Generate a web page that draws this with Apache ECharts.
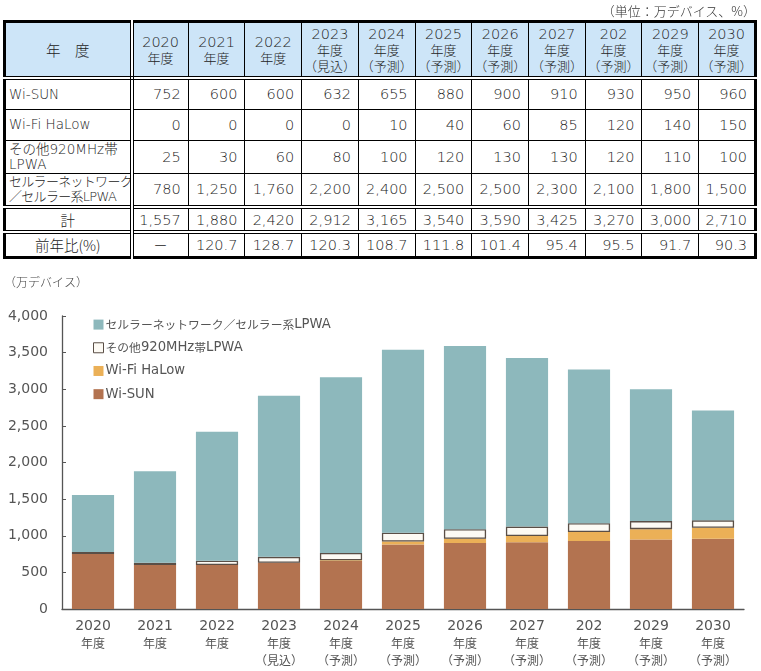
<!DOCTYPE html>
<html>
<head>
<meta charset="utf-8">
<script src="https://cdn.jsdelivr.net/npm/echarts@6/dist/echarts.min.js"></script>
<style>
html,body{margin:0;padding:0;background:#fff;width:761px;height:671px;overflow:hidden;font-family:"DejaVu Sans","Noto Sans CJK JP",sans-serif;}
#chart{position:absolute;left:0;top:0;width:761px;height:671px;z-index:1;}
#unit{position:absolute;right:5px;top:1px;font-size:13px;color:#333;z-index:2;font-family:"Noto Sans CJK JP",sans-serif;font-weight:300;}
#tbl{position:absolute;left:3px;top:20px;width:754px;border-collapse:collapse;table-layout:fixed;z-index:2;border:3px solid #000;color:#222;font-size:14.5px;background:#fff;}
#tbl td,#tbl th{border:1px solid #000;padding:0;font-weight:300;white-space:nowrap;overflow:hidden;}
#tbl th{background:#cde5f8;text-align:center;line-height:16px;font-size:14.5px;font-weight:300;}
#tbl th .s{font-size:13px;}
#tbl td.n{text-align:right;padding-right:7px;}
#tbl td.lab{text-align:left;padding-left:3px;font-size:13.5px;line-height:15px;}
#tbl td.c{text-align:center;}
#tbl .dl{border-right:4px double #000 !important;}
#tbl tr.hd th{border-bottom:4px double #000;height:53px;}
#tbl tr.dt td{border-top:4px double #000;}
.cj{font-family:"Noto Sans CJK JP",sans-serif;}
.sq{letter-spacing:-0.7px;font-size:13px;}
</style>
</head>
<body>
<div id="chart"></div>
<div id="unit">（単位：万デバイス、%）</div>
<table id="tbl"></table>
<script>
// ---- data ----
var years = ['2020','2021','2022','2023','2024','2025','2026','2027','202','2029','2030'];
var subLabels = ['年度','年度','年度','年度\n（見込）','年度\n（予測）','年度\n（予測）','年度\n（予測）','年度\n（予測）','年度\n（予測）','年度\n（予測）','年度\n（予測）'];
var seriesNames = ['Wi-SUN','Wi-Fi HaLow','その他920MHz帯LPWA','セルラーネットワーク／セルラー系LPWA'];
var rowLabels = ['Wi-SUN','Wi-Fi HaLow','その他920MHz帯<br>LPWA','<span class="sq">セルラーネットワーク</span><br><span class="sq">／セルラー系LPWA</span>'];
var wisun = [752,600,600,632,655,880,900,910,930,950,960];
var halow = [0,0,0,0,10,40,60,85,120,140,150];
var other920 = [25,30,60,80,100,120,130,130,120,110,100];
var cellular = [780,1250,1760,2200,2400,2500,2500,2300,2100,1800,1500];
var totals = [1557,1880,2420,2912,3165,3540,3590,3425,3270,3000,2710];
var yoy = ['－','120.7','128.7','120.3','108.7','111.8','101.4','95.4','95.5','91.7','90.3'];
var yTicks = [0,500,1000,1500,2000,2500,3000,3500,4000];

function fmt(v){return v.toString().replace(/\B(?=(\d{3})+(?!\d))/g, ',');}

// ---- table ----
(function(){
  var t = document.getElementById('tbl');
  var h = '<colgroup><col style="width:127px">';
  for (var i=0;i<years.length;i++) h += '<col>';
  h += '</colgroup>';
  h += '<tr class="hd"><th class="dl cj">年　度</th>';
  for (var i=0;i<years.length;i++){
    h += '<th>'+years[i]+'<br><span class="s cj">'+subLabels[i].replace('\n','<br>')+'</span></th>';
  }
  h += '</tr>';
  var rows = [wisun,halow,other920,cellular];
  var hts = [31,31,33,34];
  for (var r=0;r<rows.length;r++){
    h += '<tr style="height:'+hts[r]+'px"><td class="lab dl">'+rowLabels[r]+'</td>';
    for (var i=0;i<years.length;i++) h += '<td class="n">'+fmt(rows[r][i])+'</td>';
    h += '</tr>';
  }
  h += '<tr class="dt" style="height:24px"><td class="c dl cj">計</td>';
  for (var i=0;i<years.length;i++) h += '<td class="n">'+fmt(totals[i])+'</td>';
  h += '</tr>';
  h += '<tr class="dt" style="height:25px"><td class="c dl cj">前年比(%)</td>';
  for (var i=0;i<years.length;i++) h += '<td class="'+(i===0?'c':'n')+'">'+yoy[i]+'</td>';
  h += '</tr>';
  t.innerHTML = h;
})();

// ---- chart ----
var FF = '"DejaVu Sans","Noto Sans CJK JP",sans-serif';
var CJ = '"Noto Sans CJK JP",sans-serif';
var chart = echarts.init(document.getElementById('chart'), null, {renderer:'canvas'});
var colors = ['#b37350','#ebb057','#fdfaf4','#8db8bc'];
var cats = years.map(function(y,i){return y+'\n'+subLabels[i];});
var dataSets = [wisun,halow,other920,cellular];
var series = dataSets.map(function(d,k){
  return {
    name: seriesNames[k], type:'bar', stack:'total', data:d, barWidth:'68%',
    itemStyle: k===2 ? {color:colors[k], borderColor:'#5a4e46', borderWidth:1.3} : {color:colors[k]},
    emphasis:{disabled:true}
  };
});
function richName(n){
  var out='', cur='', curType=null;
  for (var i=0;i<n.length;i++){
    var ch=n[i]; var t = /[\u3000-\u9fff\uff00-\uffef]/.test(ch)?'c':'l';
    if (t!==curType && cur){out+='{'+curType+'|'+cur+'}';cur='';}
    curType=t; cur+=ch;
  }
  if (cur) out+='{'+curType+'|'+cur+'}';
  return out;
}
chart.setOption({
  animation:false,
  textStyle:{fontFamily:FF},
  grid:{left:62,right:17,top:316,bottom:62},
  graphic:[{type:'text',left:4,top:276,style:{text:'（万デバイス）',fontSize:12,fill:'#444',fontFamily:CJ,fontWeight:300}}],
  legend:{
    orient:'vertical', left:88, top:313, itemWidth:10, itemHeight:10, itemGap:10, icon:'rect',
    data:[seriesNames[3],seriesNames[2],seriesNames[1],seriesNames[0]],
    itemStyle:{borderWidth:1},
    formatter:function(n){return richName(n);},
    textStyle:{color:'#555',padding:[0,0,0,-3],
      rich:{c:{fontSize:11.8,color:'#555',fontFamily:CJ},l:{fontSize:13.2,color:'#555',fontFamily:FF}}}
  },
  xAxis:{
    type:'category', data:cats,
    axisLine:{lineStyle:{color:'#555',width:1.3}},
    axisTick:{length:5,lineStyle:{color:'#555'}},
    axisLabel:{margin:8,interval:0,
      formatter:function(v){var p=v.split('\n');var s='{y|'+p[0]+'}';for(var i=1;i<p.length;i++)s+='\n{s|'+p[i]+'}';return s;},
      rich:{y:{fontSize:14,color:'#555',lineHeight:18,fontFamily:FF},s:{fontSize:12,color:'#555',lineHeight:17,fontFamily:CJ}}}
  },
  yAxis:{
    type:'value', min:yTicks[0], max:yTicks[yTicks.length-1], interval:500,
    axisLine:{show:true,lineStyle:{color:'#555',width:1.3}},
    axisTick:{show:true,inside:true,length:4,lineStyle:{color:'#555'}},
    splitLine:{show:false},
    axisLabel:{margin:14,fontSize:14,color:'#555',fontFamily:FF,formatter:function(v){return fmt(v);}}
  },
  series:series
});
</script>
</body>
</html>
